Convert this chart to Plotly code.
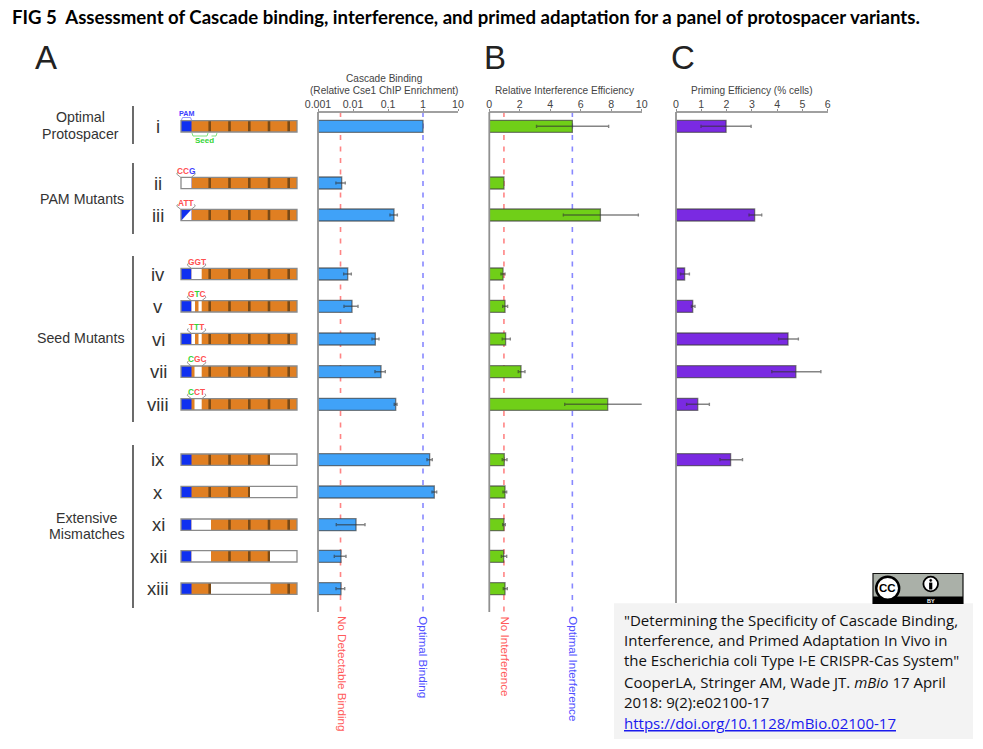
import plotly.graph_objects as go

W, H = 983, 749

# ---------- data ----------
row_labels = ["i", "ii", "iii", "iv", "v", "vi", "vii", "viii", "ix", "x", "xi", "xii", "xiii"]
row_y = [126.3, 183, 215, 274, 306.3, 339, 371.7, 404.3, 459.7, 492, 524.7, 556.3, 588.7]

binding = [1, 0.00475, 0.148, 0.00706, 0.00936, 0.0434, 0.0631, 0.166, 1.55, 2.10, 0.0122, 0.00454, 0.00454]
binding_lo = [None, 0.00325, 0.114, 0.00542, 0.00553, 0.0349, 0.0425, 0.151, 1.30, 1.81, 0.00333, 0.00292, 0.00327]
binding_hi = [None, 0.0060, 0.185, 0.00895, 0.0139, 0.0553, 0.0837, 0.181, 1.84, 2.46, 0.022, 0.0063, 0.0058]

interference = [5.45, 0.96, 7.29, 0.90, 1.03, 1.07, 2.08, 7.77, 0.98, 1.03, 0.96, 0.94, 1.03]
interference_lo = [3.1, None, 4.86, 0.77, 0.88, 0.85, 1.9, 4.95, 0.85, 0.9, 0.88, 0.79, 0.92]
interference_hi = [7.83, None, 9.78, 1.03, 1.2, 1.38, 2.34, 10.68, 1.16, 1.14, 1.05, 1.14, 1.18]

priming = [1.98, None, 3.11, 0.34, 0.66, 4.43, 4.74, 0.86, 2.16, None, None, None, None]
priming_lo = [0.99, None, 2.89, 0.18, 0.61, 4.06, 3.79, 0.42, 1.74, None, None, None, None]
priming_hi = [2.97, None, 3.39, 0.53, 0.75, 4.84, 5.73, 1.32, 2.63, None, None, None, None]

binding_ticks = [0.001, 0.01, 0.1, 1, 10]
binding_ticktext = ["0.001", "0.01", "0.1", "1", "10"]
interference_ticks = [0, 2, 4, 6, 8, 10]
priming_ticks = [0, 1, 2, 3, 4, 5, 6]

no_binding, optimal_binding = 0.0044, 1
no_interference, optimal_interference = 0.96, 5.45

groups = [(["Optimal", "Protospacer"], 80, 125.5, 106, 144),
          (["PAM Mutants"], 82, 199, 163, 234),
          (["Seed Mutants"], 81, 338, 256, 422),
          (["Extensive", "Mismatches"], 87, 526, 445, 608)]

# diagram: white stretches of each protospacer schematic
white_spans = {
    "ii": [(181, 191.5)],
    "iv": [(191.5, 201.7)],
    "v": [(191.5, 195), (198.5, 201.7)],
    "vi": [(191.5, 195), (198.5, 201.7)],
    "vii": [(194.5, 201.7)],
    "viii": [(194.5, 201.7)],
    "ix": [(270, 297)],
    "x": [(250, 297)],
    "xi": [(191.5, 211)],
    "xii": [(191.5, 211), (270, 297)],
    "xiii": [(211, 270.5)],
}
R, G, B_ = "#ff5050", "#35d435", "#4040ff"
seq_labels = {
    "ii": (186, [("CC", R), ("G", B_)]),
    "iii": (186, [("ATT", R)]),
    "iv": (196.6, [("GGT", R)]),
    "v": (196.6, [("G", R), ("T", G), ("C", R)]),
    "vi": (196.6, [("T", R), ("T", G), ("T", R)]),
    "vii": (196.6, [("C", G), ("GC", R)]),
    "viii": (196.6, [("C", G), ("CT", R)]),
}

# ---------- helpers ----------
shapes, ann = [], []


def px(x):
    return x / W


def rect(x0, x1, y0, y1, fill, line=None, lw=0, layer="below"):
    shapes.append(dict(type="rect", xref="paper", yref="y", x0=px(x0), x1=px(x1), y0=y0, y1=y1,
                       fillcolor=fill, line=dict(color=line or "rgba(0,0,0,0)", width=lw), layer=layer))


def seg(pts, color, lw=1.0, layer="above", fill=None, close=False):
    d = "M" + " L".join(f"{px(x):.5f},{y:.2f}" for x, y in pts) + (" Z" if close else "")
    shapes.append(dict(type="path", xref="paper", yref="y", path=d,
                       line=dict(color=color, width=lw), fillcolor=fill, layer=layer))


def circle(cx, cy, r, fill, line, lw):
    shapes.append(dict(type="circle", xref="paper", yref="y", x0=px(cx - r), x1=px(cx + r), y0=cy - r, y1=cy + r,
                       fillcolor=fill, line=dict(color=line, width=lw), layer="above"))


def text(x, y, s, size=12, color="#333", family="Liberation Sans", anchor="center", angle=0):
    ann.append(dict(xref="paper", yref="y", x=px(x), y=y, text=s, showarrow=False, xanchor=anchor, yanchor="middle",
                    font=dict(size=size, color=color, family=family), textangle=angle, borderpad=0, borderwidth=0,
                    align="left" if anchor == "left" else "center"))


# ---------- figure ----------
fig = go.Figure()
AX_Y, AX_END = 112, 612
BAR_H = 12


def panel(vals, lo, hi, color, ax):
    fig.add_trace(go.Bar(y=row_y, x=vals, orientation="h", width=BAR_H, xaxis=ax, yaxis="y",
                         marker=dict(color=color, line=dict(color="rgba(60,60,60,0.65)", width=1.3)),
                         showlegend=False, hoverinfo="skip"))
    idx = [i for i in range(len(vals)) if lo[i] is not None]
    fig.add_trace(go.Scatter(y=[row_y[i] for i in idx], x=[vals[i] for i in idx], mode="markers",
                             marker=dict(opacity=0, size=1), xaxis=ax, yaxis="y", showlegend=False,
                             hoverinfo="skip", cliponaxis=False,
                             error_x=dict(type="data", symmetric=False,
                                          array=[hi[i] - vals[i] for i in idx],
                                          arrayminus=[vals[i] - lo[i] for i in idx],
                                          color="rgba(50,50,50,0.6)", thickness=1.4, width=1.6)))


panel(binding, binding_lo, binding_hi, "#40a2f8", "x")
panel(interference, interference_lo, interference_hi, "#70cf18", "x2")
panel(priming, priming_lo, priming_hi, "#7a2ae2", "x3")

# vertical axes and dashed reference lines
for x, end in [(318, AX_END), (489.3, AX_END), (676, 603)]:
    seg([(x, AX_Y), (x, end)], "#909090", 1.8, layer="above")
for ref, xv, color in [("x", no_binding, "rgba(255,80,80,0.7)"), ("x", optimal_binding, "rgba(85,85,255,0.7)"),
                       ("x2", no_interference, "rgba(255,80,80,0.7)"), ("x2", optimal_interference, "rgba(85,85,255,0.7)")]:
    shapes.append(dict(type="line", xref=ref, yref="y", x0=xv, x1=xv, y0=AX_Y, y1=AX_END,
                       line=dict(color=color, width=1.6, dash="5px,6.5px"), layer="below"))

# group labels and brackets
for lines, lx, ly, y0, y1 in groups:
    for k, label in enumerate(lines):
        text(lx, ly + (k - (len(lines) - 1) / 2) * 16.7, label, 14.2, "#333")
    seg([(133, y0), (133, y1)], "#3a3a3a", 1.5)

# row labels and protospacer schematics
ticks_x = [209.7, 229.5, 249.3, 269, 288.7]
for lab, y in zip(row_labels, row_y):
    text(158, y, lab, 18.5, "#333")
    top, bot = y - 5.7, y + 5.7
    rect(181, 297, top, bot, "#e07f22")
    rect(181, 191.5, top, bot, "#1030f0")
    for tx in ticks_x:
        rect(tx - 1.3, tx + 1.3, top, bot, "#7a4a16")
    for a, b in white_spans.get(lab, []):
        rect(a, b, top, bot, "#ffffff")
    if lab == "iii":
        rect(181, 191.5, top, bot, "#ffffff")
        seg([(181, top), (191.5, top), (181, bot)], "#1030f0", 0.2, layer="below", fill="#1030f0", close=True)
    rect(181, 297, top, bot, "rgba(0,0,0,0)", "#8a8a8a", 1.3)
    if lab in seq_labels:
        cx, parts = seq_labels[lab]
        s = "".join(f'<span style="color:{c}">{t}</span>' for t, c in parts)
        text(cx, y - 12.5, f"<b>{s}</b>", 8.3)
        half = 5.3
        for sgn in (-1, 1):
            x0 = cx + sgn * half
            seg([(x0, top), (x0 + sgn * 4, top - 3.2), (x0 + sgn * 3, top - 5)], "#8a8a8a", 0.9)

# PAM and Seed tags on row i
text(186.3, 113.5, "<b>PAM</b>", 7.2, B_)
seg([(181.5, 120), (182.5, 117.5), (190.5, 117.5), (191.5, 120)], "#8a8aff", 0.9)
seg([(192, 133), (193, 136), (207, 136), (208, 133)], "#70e070", 0.9)
seg([(211.5, 136), (216, 136), (217, 133)], "#70e070", 0.9)
text(204.5, 140.5, "<b>Seed</b>", 8, G)

# axis titles
text(384, 78.5, "Cascade Binding", 10.1, "#444")
text(384, 90.5, "(Relative Cse1 ChIP Enrichment)", 10.1, "#444")
text(565, 90.5, "Relative Interference Efficiency", 10.1, "#444")
text(752, 90.5, "Priming Efficiency (% cells)", 10.1, "#444")

# rotated reference labels
text(342.5, 673.5, "No Detectable Binding", 11.6, "#ff5a5a", angle=90)
text(423.7, 657, "Optimal Binding", 11.6, "#5050ff", angle=90)
text(505, 656.5, "No Interference", 11.6, "#ff5a5a", angle=90)
text(573.7, 669, "Optimal Interference", 11.6, "#5050ff", angle=90)

# panel letters and title
text(46, 57, "A", 33, "#222")
text(495, 57, "B", 33, "#222")
text(683, 57, "C", 33, "#222")
text(12, 17, "<b>FIG 5  Assessment of Cascade binding, interference, and primed adaptation for a panel of protospacer variants.</b>",
     18.6, "#000", "Lato", "left")

# citation box
rect(614, 973, 603.3, 739, "#f3f3f3", layer="above")
cite = ['"Determining the Specificity of Cascade Binding,', "Interference, and Primed Adaptation In Vivo in",
        'the Escherichia coli Type I-E CRISPR-Cas System"', "CooperLA, Stringer AM, Wade JT. <i>mBio</i> 17 April",
        "2018: 9(2):e02100-17"]
cite_y = [619.5, 639.5, 659.5, 682, 701.5]
for line, y in zip(cite, cite_y):
    text(624, y, line, 15, "#111", "Open Sans", "left")
text(624, 722.5, '<u>https://doi.org/10.1128/mBio.02100-17</u>', 15, "#1a1aee", "Open Sans", "left")

# licence badge
rect(873, 963, 573.5, 603.5, "#aab0a8", "#111", 1.2, layer="above")
rect(873, 963, 596.5, 604, "#000000", layer="above")
text(930.5, 600.5, "<b>BY</b>", 5.5, "#fff")
circle(887.7, 588.3, 11.5, "#ffffff", "#000", 2.4)
text(887.7, 588.3, "<b>CC</b>", 11.5, "#000")
circle(930.7, 584, 7.3, "#ffffff", "#000", 1.8)
circle(930.7, 580.4, 1.1, "#000", "#000", 0.5)
rect(929.1, 932.3, 582.6, 589.5, "#000000", layer="above")


def xaxis(lo, hi, rng, vals, txt=None, typ="linear"):
    return dict(domain=[lo / W, hi / W], range=rng, type=typ, anchor="free", position=1 - AX_Y / H, side="top",
                showgrid=False, zeroline=False, showline=True, linecolor="#a0a0a0", linewidth=1.5,
                ticks="outside", ticklen=2, tickwidth=1, tickcolor="#909090", tickvals=vals,
                ticktext=txt if txt else [str(v) for v in vals],
                tickfont=dict(family="Liberation Sans", size=10.6, color="#444"), ticklabelstandoff=-3,
                automargin=False)


fig.update_layout(
    width=W, height=H, margin=dict(l=0, r=0, t=0, b=0, pad=0, autoexpand=False), paper_bgcolor="white",
    plot_bgcolor="white",
    barmode="overlay", showlegend=False, shapes=shapes, annotations=ann,
    yaxis=dict(range=[H, 0], domain=[0, 1], visible=False, fixedrange=True, automargin=False),
    xaxis=xaxis(318, 458, [-3, 1], binding_ticks, binding_ticktext, "log"),
    xaxis2=xaxis(489.3, 641.7, [0, 10], interference_ticks),
    xaxis3=xaxis(676, 827.7, [0, 6], priming_ticks),
)
fig.write_html("out.html", config=dict(displayModeBar=False),
               post_script="document.body.style.margin='0';document.body.style.overflow='hidden';")
